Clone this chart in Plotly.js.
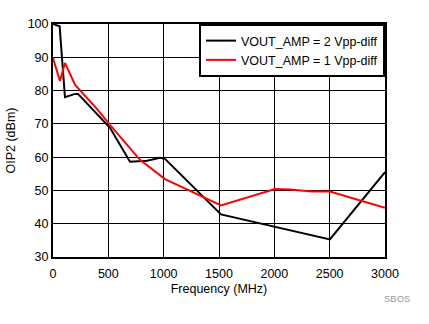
<!DOCTYPE html>
<html><head><meta charset="utf-8">
<script src="https://cdn.plot.ly/plotly-3.0.1.min.js"></script>
<style>html,body{margin:0;padding:0;background:#fff}#c{width:429px;height:324px}</style>
</head><body><div id="c"></div>
<script>
var freq2 = [0, 60, 108, 200, 226, 515, 696, 850, 966, 1012, 1518, 2502, 3000];
var oip2_2 = [100, 99.3, 78, 79, 79, 68.8, 58.6, 58.9, 59.8, 59.5, 42.8, 35.3, 55.5];
var freq1 = [0, 63, 108, 200, 397, 515, 786, 1012, 1210, 1518, 2006, 2141, 2340, 2502, 3000];
var oip2_1 = [89.8, 82.9, 88.3, 81.7, 74.5, 69.7, 59.2, 53.4, 50.3, 45.5, 50.4, 50.3, 49.7, 49.7, 44.8];
var name2 = 'VOUT_AMP = 2 Vpp-diff';
var name1 = 'VOUT_AMP = 1 Vpp-diff';
var fnt = {family: 'Liberation Sans, Arial, sans-serif', size: 12.5, color: '#000'};
Plotly.newPlot('c', [
  {x: freq2, y: oip2_2, mode: 'lines', name: name2, line: {color: '#000', width: 2}},
  {x: freq1, y: oip2_1, mode: 'lines', name: name1, line: {color: '#ff0000', width: 2}}
], {
  width: 429, height: 324,
  margin: {l: 53, r: 44, t: 24, b: 67},
  paper_bgcolor: '#fff', plot_bgcolor: '#fff',
  font: fnt,
  showlegend: true,
  legend: {x: 1, xanchor: 'right', y: 1, yanchor: 'top', bgcolor: '#fff', bordercolor: '#000', borderwidth: 2,
           font: fnt, tracegroupgap: 0, itemwidth: 30},
  xaxis: {range: [0, 3000], dtick: 500, tick0: 0, showgrid: true, gridcolor: '#000', gridwidth: 1,
          showline: true, linecolor: '#000', linewidth: 2, mirror: true, ticks: 'outside', ticklen: 4,
          tickcolor: 'rgba(0,0,0,0)', zeroline: false,
          title: {text: 'Frequency (MHz)', font: fnt, standoff: 4}, tickfont: fnt, fixedrange: true},
  yaxis: {range: [30, 100], dtick: 10, tick0: 30, showgrid: true, gridcolor: '#000', gridwidth: 1,
          showline: true, linecolor: '#000', linewidth: 2, mirror: true, ticks: '', zeroline: false,
          title: {text: 'OIP2 (dBm)', font: fnt, standoff: 9}, tickfont: fnt, fixedrange: true},
  annotations: [{text: 'SBOS', xref: 'paper', yref: 'paper', x: 1.08, y: -0.145, xanchor: 'right', yanchor: 'top',
                 showarrow: false, font: {family: fnt.family, size: 9.5, color: '#999'}}]
}, {displayModeBar: false, staticPlot: true});
</script></body></html>
